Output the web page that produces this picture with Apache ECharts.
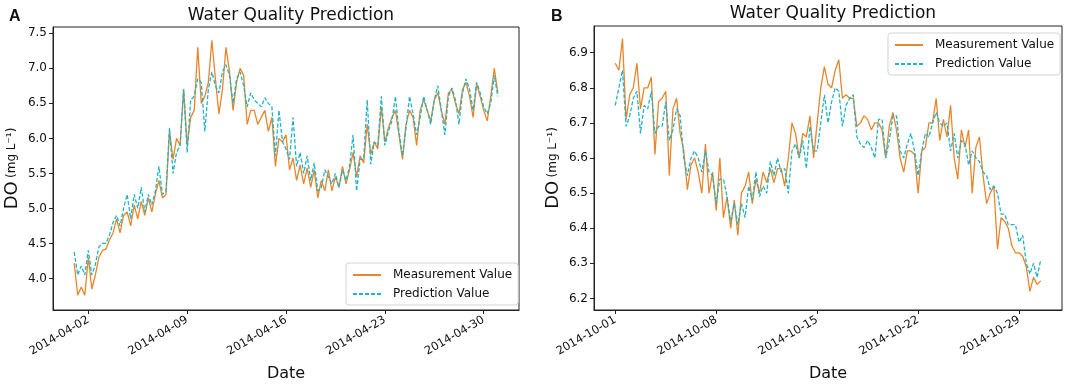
<!DOCTYPE html>
<html>
<head>
<meta charset="utf-8">
<script src="https://cdn.jsdelivr.net/npm/echarts@6/dist/echarts.min.js"></script>
<style>
html, body { margin: 0; padding: 0; background: #fff; }
#chart { width: 1067px; height: 387px; }
</style>
</head>
<body>
<div id="chart"></div>
<script>
// readings every 6 hours
const STEP = 6 * 3600 * 1000;
const startA = Date.UTC(2014, 3, 1);
const startB = Date.UTC(2014, 9, 1);

const measA = [
  4.22, 3.76, 3.88, 3.76, 4.30, 3.85, 4.05, 4.30, 4.40, 4.42, 4.55, 4.65,
  4.85, 4.65, 4.90, 4.95, 4.75, 5.05, 4.85, 5.10, 4.90, 5.15, 4.95, 5.20,
  5.40, 5.15, 5.20, 6.10, 5.70, 6.00, 5.90, 6.70, 5.90, 6.30, 6.40, 7.30,
  6.50, 6.60, 6.80, 7.40, 6.85, 6.35, 6.70, 7.30, 6.95, 6.40, 6.80, 7.00,
  6.90, 6.20, 6.40, 6.40, 6.20, 6.30, 6.40, 6.10, 6.30, 5.60, 6.00, 5.95,
  6.05, 5.55, 5.72, 5.40, 5.62, 5.35, 5.58, 5.30, 5.55, 5.15, 5.40, 5.25,
  5.55, 5.25, 5.45, 5.30, 5.60, 5.35, 5.55, 5.80, 5.45, 5.75, 5.65, 6.20,
  5.77, 5.95, 5.85, 6.45, 5.95, 6.15, 6.30, 6.40, 6.05, 5.70, 6.20, 6.40,
  6.30, 5.90, 6.40, 6.55, 6.40, 6.25, 6.55, 6.65, 6.40, 6.20, 6.65, 6.70,
  6.50, 6.35, 6.70, 6.80, 6.60, 6.30, 6.78, 6.60, 6.40, 6.25, 6.60, 7.00,
  6.65
];
const predA = [
  4.38, 4.05, 4.18, 4.05, 4.40, 4.05, 4.20, 4.45, 4.50, 4.50, 4.62, 4.80,
  4.90, 4.75, 5.00, 5.20, 4.85, 5.20, 5.00, 5.30, 4.95, 5.20, 5.05, 5.25,
  5.60, 5.20, 5.25, 6.15, 5.50, 5.80, 5.90, 6.70, 5.80, 6.55, 6.60, 6.85,
  6.80, 6.10, 6.70, 6.95, 6.75, 6.65, 6.95, 7.05, 6.90, 6.50, 6.85, 6.95,
  6.75, 6.45, 6.65, 6.55, 6.50, 6.45, 6.58, 6.50, 6.45, 5.75, 6.40, 5.95,
  5.85, 5.70, 6.30, 5.60, 5.80, 5.50, 5.75, 5.40, 5.65, 5.25, 5.30, 5.55,
  5.45, 5.35, 5.50, 5.30, 5.55, 5.40, 5.60, 6.05, 5.25, 5.70, 5.70, 6.55,
  5.63, 5.95, 5.90, 6.60, 5.90, 6.10, 6.25, 6.60, 6.10, 5.75, 6.15, 6.60,
  6.35, 6.05, 6.30, 6.60, 6.40, 6.20, 6.55, 6.75, 6.40, 6.05, 6.60, 6.72,
  6.55, 6.20, 6.65, 6.85, 6.70, 6.40, 6.80, 6.65, 6.45, 6.35, 6.50, 6.90,
  6.60
];
const measB = [
  6.87, 6.85, 6.94, 6.71, 6.78, 6.80, 6.87, 6.74, 6.80, 6.80, 6.83, 6.61,
  6.76, 6.77, 6.79, 6.55, 6.74, 6.77, 6.67, 6.62, 6.51, 6.58, 6.60, 6.56,
  6.50, 6.64, 6.50, 6.56, 6.45, 6.60, 6.43, 6.49, 6.40, 6.48, 6.38, 6.50,
  6.52, 6.56, 6.47, 6.54, 6.50, 6.56, 6.53, 6.57, 6.53, 6.57, 6.57, 6.52,
  6.60, 6.70, 6.67, 6.60, 6.67, 6.66, 6.72, 6.60, 6.70, 6.80, 6.86, 6.81,
  6.80, 6.85, 6.88, 6.77, 6.78, 6.77, 6.77, 6.69, 6.70, 6.72, 6.71, 6.68,
  6.70, 6.70, 6.68, 6.60, 6.69, 6.73, 6.68, 6.60, 6.56, 6.62, 6.62, 6.61,
  6.50, 6.62, 6.63, 6.70, 6.70, 6.77, 6.65, 6.71, 6.66, 6.75, 6.60, 6.54,
  6.68, 6.63, 6.68, 6.50, 6.63, 6.66, 6.55, 6.47, 6.50, 6.52, 6.34, 6.43,
  6.42, 6.40, 6.35, 6.33, 6.33, 6.32, 6.29, 6.22, 6.26, 6.24, 6.25
];
const predB = [
  6.75, 6.80, 6.85, 6.69, 6.72, 6.77, 6.79, 6.67, 6.75, 6.74, 6.79, 6.67,
  6.69, 6.69, 6.76, 6.65, 6.68, 6.74, 6.72, 6.60, 6.55, 6.60, 6.62, 6.60,
  6.56, 6.62, 6.56, 6.55, 6.47, 6.54, 6.54, 6.49, 6.42, 6.47, 6.41, 6.47,
  6.43, 6.52, 6.48, 6.56, 6.49, 6.52, 6.50, 6.59, 6.55, 6.60, 6.56, 6.57,
  6.50, 6.62, 6.64, 6.60, 6.65, 6.57, 6.69, 6.62, 6.62, 6.70, 6.78, 6.70,
  6.76, 6.80, 6.79, 6.69, 6.75, 6.77, 6.78, 6.66, 6.64, 6.63, 6.65, 6.63,
  6.60, 6.71, 6.71, 6.60, 6.65, 6.72, 6.72, 6.62, 6.60, 6.64, 6.67, 6.62,
  6.55, 6.62, 6.67, 6.66, 6.70, 6.73, 6.70, 6.69, 6.70, 6.62, 6.67, 6.60,
  6.65, 6.64, 6.58, 6.62, 6.60, 6.59, 6.56, 6.55, 6.51, 6.52, 6.50, 6.44,
  6.44, 6.41, 6.41, 6.41, 6.36, 6.38, 6.30, 6.27, 6.30, 6.26, 6.31
];

const dateTicksA = ['2014-04-02', '2014-04-09', '2014-04-16', '2014-04-23', '2014-04-30'];
const dateTicksB = ['2014-10-01', '2014-10-08', '2014-10-15', '2014-10-22', '2014-10-29'];
const yTicksA = [4.0, 4.5, 5.0, 5.5, 6.0, 6.5, 7.0, 7.5];
const yTicksB = [6.2, 6.3, 6.4, 6.5, 6.6, 6.7, 6.8, 6.9];

const ORANGE = '#e8862b';
const CYAN = '#22b3c8';
const FONT = 'DejaVu Sans';

function toPairs(start, values) {
  return values.map(function (v, i) { return [start + i * STEP, v]; });
}
function ts(s) { return Date.parse(s + 'T00:00:00Z'); }
function fmtDate(v) {
  const d = new Date(v);
  const m = String(d.getUTCMonth() + 1).padStart(2, '0');
  const day = String(d.getUTCDate()).padStart(2, '0');
  return d.getUTCFullYear() + '-' + m + '-' + day;
}

function xAxisFor(gridIndex, start, count, ticks) {
  const end = start + (count - 1) * STEP;
  const pad = (end - start) * 0.05;
  const tickVals = ticks.map(ts);
  return {
    type: 'value',
    gridIndex: gridIndex,
    min: start - pad,
    max: end + pad,
    name: 'Date',
    nameLocation: 'middle',
    nameGap: 56,
    nameTextStyle: { fontFamily: FONT, fontSize: 16, color: '#111' },
    axisLine: { lineStyle: { color: '#222', width: 1 } },
    axisTick: { length: 4, lineStyle: { color: '#222' }, customValues: tickVals },
    axisLabel: {
      customValues: tickVals,
      rotate: 30,
      fontFamily: FONT,
      fontSize: 11.5,
      color: '#111',
      margin: 9,
      formatter: fmtDate
    },
    splitLine: { show: false }
  };
}

function yAxisFor(gridIndex, min, max, ticks) {
  return {
    type: 'value',
    gridIndex: gridIndex,
    min: min,
    max: max,
    name: '{a|DO} {b|(mg L⁻¹)}',
    nameLocation: 'middle',
    nameRotate: 90,
    nameGap: 32,
    nameTextStyle: {
      rich: {
        a: { fontFamily: FONT, fontSize: 18, color: '#111' },
        b: { fontFamily: FONT, fontSize: 12, color: '#111' }
      }
    },
    axisLine: { show: true, lineStyle: { color: '#222', width: 1 } },
    axisTick: { show: true, length: 4, lineStyle: { color: '#222' }, customValues: ticks },
    axisLabel: {
      customValues: ticks,
      fontFamily: FONT,
      fontSize: 12,
      color: '#111',
      margin: 6,
      formatter: function (v) { return v.toFixed(1); }
    },
    splitLine: { show: false }
  };
}

function legendAt(left, top) {
  return {
    data: ['Measurement Value', 'Prediction Value'],
    orient: 'vertical',
    left: left,
    top: top,
    backgroundColor: '#fff',
    borderColor: '#d4d4d4',
    borderWidth: 1,
    borderRadius: 3,
    padding: [6, 6, 5, 6],
    itemWidth: 28,
    itemHeight: 10,
    itemGap: 7,
    itemStyle: { opacity: 0 },
    textStyle: { fontFamily: FONT, fontSize: 12, color: '#111', padding: [0, 0, 0, 7] }
  };
}

function lineSeries(name, xi, data, color, dashed) {
  return {
    name: name,
    type: 'line',
    xAxisIndex: xi,
    yAxisIndex: xi,
    data: data,
    showSymbol: false,
    symbol: 'none',
    color: color,
    lineStyle: { color: color, width: 1.3, type: dashed ? [4, 2] : 'solid' },
    z: dashed ? 3 : 2
  };
}

const chart = echarts.init(document.getElementById('chart'), null, { renderer: 'canvas' });
chart.setOption({
  animation: false,
  backgroundColor: '#fff',
  title: [
    { text: 'Water Quality Prediction', left: 286, top: 2, textAlign: 'center',
      textStyle: { fontFamily: FONT, fontSize: 17, fontWeight: 'normal', color: '#111' } },
    { text: 'Water Quality Prediction', left: 828, top: 0, textAlign: 'center',
      textStyle: { fontFamily: FONT, fontSize: 17, fontWeight: 'normal', color: '#111' } },
    { text: 'A', left: 4, top: 4, textStyle: { fontFamily: 'Liberation Sans', fontSize: 16, fontWeight: 'bold', color: '#111' } },
    { text: 'B', left: 546, top: 4, textStyle: { fontFamily: 'Liberation Sans', fontSize: 16, fontWeight: 'bold', color: '#111' } }
  ],
  legend: [legendAt(346, 263), legendAt(888, 33)],
  grid: [
    { left: 53, right: 1067 - 519, top: 27, bottom: 387 - 312, show: true, borderColor: '#222', borderWidth: 1, backgroundColor: 'transparent' },
    { left: 594, right: 1067 - 1062, top: 26, bottom: 387 - 311, show: true, borderColor: '#222', borderWidth: 1, backgroundColor: 'transparent' }
  ],
  xAxis: [
    xAxisFor(0, startA, measA.length, dateTicksA),
    xAxisFor(1, startB, measB.length, dateTicksB)
  ],
  yAxis: [
    yAxisFor(0, 3.55, 7.59, yTicksA),
    yAxisFor(1, 6.167, 6.976, yTicksB)
  ],
  series: [
    lineSeries('Measurement Value', 0, toPairs(startA, measA), ORANGE, false),
    lineSeries('Prediction Value', 0, toPairs(startA, predA), CYAN, true),
    lineSeries('Measurement Value', 1, toPairs(startB, measB), ORANGE, false),
    lineSeries('Prediction Value', 1, toPairs(startB, predB), CYAN, true)
  ]
});
</script>
</body>
</html>
